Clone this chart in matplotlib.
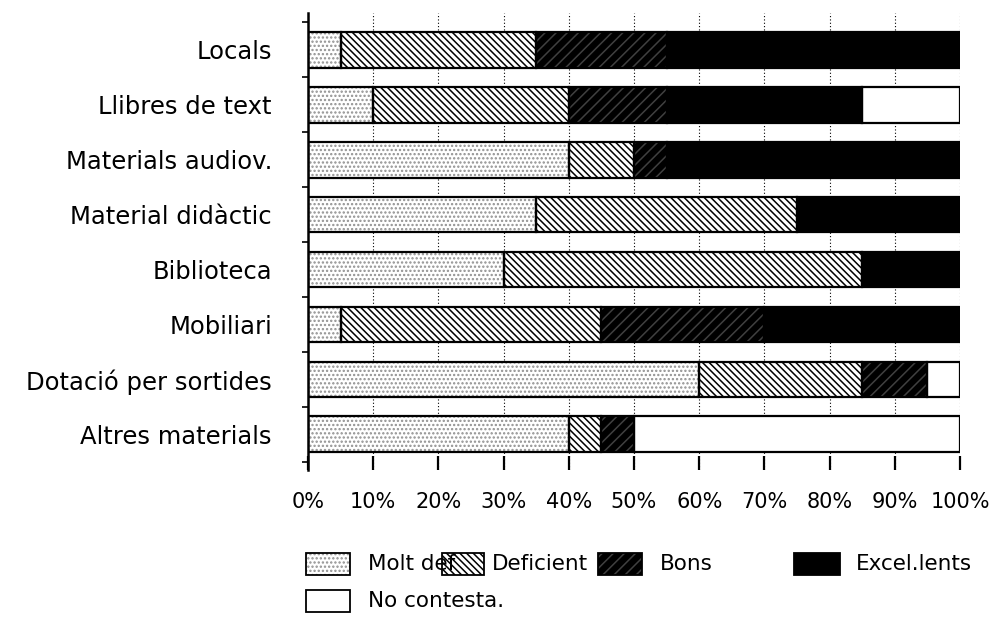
import matplotlib
matplotlib.use("Agg")
import matplotlib.pyplot as plt
from matplotlib.patches import Rectangle
import numpy as np

categories = ["Locals", "Llibres de text", "Materials audiov.", "Material didàctic",
              "Biblioteca", "Mobiliari", "Dotació per sortides", "Altres materials"]
series_names = ["Molt def", "Deficient", "Bons", "Excel.lents", "No contesta."]
molt_def   = [5, 10, 40, 35, 30, 5, 60, 40]
deficient  = [30, 30, 10, 40, 55, 40, 25, 5]
bons       = [20, 15, 5, 0, 0, 25, 10, 5]
excelents  = [45, 30, 45, 25, 15, 30, 0, 0]
no_contesta = [0, 15, 0, 0, 0, 0, 5, 50]
xtick_vals = list(range(0, 101, 10))
xtick_labels = [f"{v}%" for v in xtick_vals]

plt.rcParams['hatch.linewidth'] = 1.1
plt.rcParams['font.family'] = ['DejaVu Sans']

styles = [
    dict(facecolor="white", hatchcolor="#909090", hatch="...."),
    dict(facecolor="white", hatchcolor="black", hatch="\\\\\\\\\\"),
    dict(facecolor="black", hatchcolor="#404040", hatch="///"),
    dict(facecolor="black", hatchcolor="black", hatch=None),
    dict(facecolor="white", hatchcolor="white", hatch=None),
]

fig = plt.figure(figsize=(9.92, 6.19), dpi=100)
ax = fig.add_axes([308/992, 1-470/619, 652/992, 457/619])

y = np.arange(len(categories))
series = [molt_def, deficient, bons, excelents, no_contesta]
left = np.zeros(len(categories))
h = 0.65
for vals, st in zip(series, styles):
    vals = np.array(vals, dtype=float)
    ax.barh(y, vals, left=left, height=h, color=st["facecolor"],
            edgecolor=st["hatchcolor"], hatch=st["hatch"], linewidth=0, zorder=2)
    mask = vals > 0
    ax.barh(y[mask], vals[mask], left=left[mask], height=h, fill=False,
            edgecolor="black", linewidth=1.6, zorder=3)
    left += vals

ax.set_xlim(0, 100)
ax.set_ylim(len(categories) - 1 + 0.65, -0.67)
ax.set_xticks(xtick_vals)
ax.set_xticklabels(xtick_labels, fontsize=15)
ax.set_yticks(y)
ax.set_yticklabels(categories, fontsize=17.5)
ax.set_yticks(np.arange(len(categories) + 1) - 0.5, minor=True)
ax.tick_params(axis="y", which="major", length=0, pad=26)
ax.tick_params(axis="y", which="minor", length=4, width=1.2, direction="out")
ax.tick_params(axis="x", direction="in", length=10, width=1.6, pad=16)
ax.xaxis.grid(True, linestyle=(0, (1, 2)), color="black", linewidth=0.8, zorder=0)
ax.set_axisbelow(True)
for s in ["top", "right", "bottom"]:
    ax.spines[s].set_visible(False)
ax.spines["left"].set_linewidth(1.8)

# legend (manual)
def box(x, yy, w, st):
    r = Rectangle((x/992, 1-yy/619), w/992, 22/619, transform=fig.transFigure,
                  facecolor=st["facecolor"], edgecolor=st["hatchcolor"],
                  hatch=st["hatch"], linewidth=0)
    fig.patches.append(r)
    r2 = Rectangle((x/992, 1-yy/619), w/992, 22/619, transform=fig.transFigure,
                   fill=False, edgecolor="black", linewidth=1.3)
    fig.patches.append(r2)

# (box left, box bottom y in px, box width, text left)
leg_pos = [(306, 575, 44, 368), (442, 575, 42, 492), (598, 575, 44, 660),
           (794, 575, 46, 856), (306, 612, 44, 368)]
for (bx, by, bw, tx), st, name in zip(leg_pos, styles, series_names):
    box(bx, by, bw, st)
    fig.text(tx/992, 1-(by-11)/619, name, fontsize=15.5, va="center", ha="left")

fig.savefig("out.png", dpi=100)
